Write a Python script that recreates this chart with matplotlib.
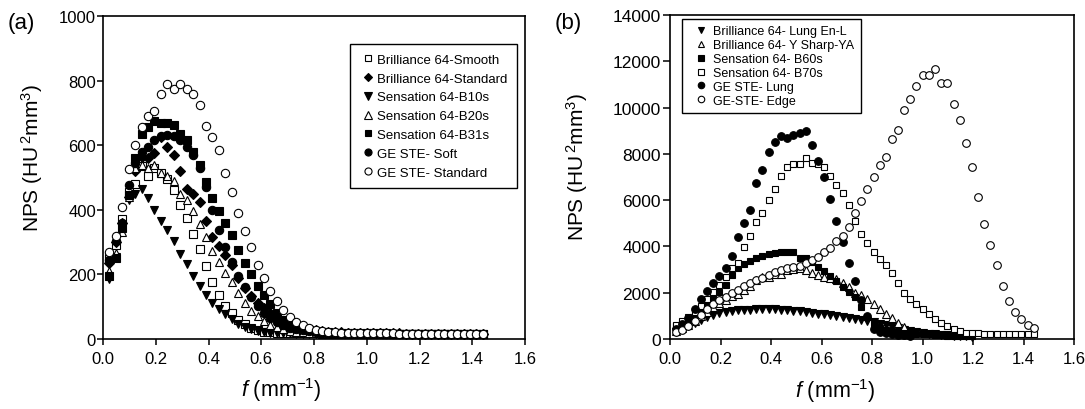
import matplotlib
matplotlib.use('Agg')
import matplotlib.pyplot as plt
from matplotlib.ticker import MultipleLocator, FormatStrFormatter

plt.rcParams['font.family'] = 'Liberation Sans'
plt.rcParams['mathtext.fontset'] = 'custom'
plt.rcParams['mathtext.rm'] = 'Liberation Sans'
plt.rcParams['mathtext.it'] = 'Liberation Sans:italic'

# spatial frequency samples (mm^-1), shared by both panels
FREQ = [0.024, 0.049, 0.073, 0.098, 0.122, 0.146, 0.171, 0.195, 0.220, 0.244,
        0.268, 0.293, 0.317, 0.342, 0.366, 0.391, 0.415, 0.439, 0.464, 0.488,
        0.513, 0.537, 0.562, 0.586, 0.610, 0.635, 0.659, 0.684, 0.708, 0.732,
        0.757, 0.781, 0.806, 0.830, 0.854, 0.879, 0.903, 0.928, 0.952, 0.976,
        1.001, 1.025, 1.050, 1.074, 1.098, 1.123, 1.147, 1.172, 1.196, 1.220,
        1.245, 1.269, 1.294, 1.318, 1.342, 1.367, 1.391, 1.416, 1.440]

# (a) soft / standard kernels
b64_smooth = [250, 290, 370, 455, 480, 535, 505, 530, 515, 495,
              460, 415, 375, 325, 278, 225, 175, 135, 103, 80,
              60, 45, 34, 27, 23, 21, 20, 19, 19, 18,
              18, 18, 18, 17, 17, 17, 17, 17, 17, 16,
              16, 16, 16, 16, 16, 16, 15, 15, 15, 15,
              15, 15, 15, 15, 14, 14, 14, 14, 14]
b64_standard = [235, 300, 360, 440, 520, 565, 560, 575, 625, 595,
                570, 520, 465, 448, 425, 365, 315, 288, 260, 228,
                190, 157, 132, 110, 95, 80, 66, 55, 46, 39,
                34, 30, 27, 25, 23, 22, 21, 20, 20, 19,
                19, 19, 18, 18, 18, 18, 17, 17, 17, 17,
                17, 16, 16, 16, 16, 16, 15, 15, 15]
s64_b10s = [185, 255, 335, 430, 450, 465, 435, 398, 366, 337,
            302, 262, 233, 195, 165, 135, 110, 92, 76, 61,
            47, 37, 30, 25, 22, 20, 19, 18, 18, 17,
            17, 17, 17, 16, 16, 16, 16, 16, 16, 15,
            15, 15, 15, 15, 15, 15, 15, 14, 14, 14,
            14, 14, 14, 14, 14, 13, 13, 13, 13]
s64_b20s = [210, 265, 330, 440, 530, 540, 530, 540, 515, 505,
            488, 450, 430, 395, 355, 315, 272, 238, 205, 176,
            142, 112, 88, 70, 55, 44, 36, 30, 26, 23,
            21, 20, 19, 19, 18, 18, 18, 17, 17, 17,
            17, 17, 16, 16, 16, 16, 16, 16, 15, 15,
            15, 15, 15, 15, 15, 14, 14, 14, 14]
s64_b31s = [195, 250, 345, 445, 560, 635, 655, 675, 670, 668,
            662, 635, 615, 580, 540, 485, 435, 395, 358, 322,
            275, 235, 200, 165, 135, 108, 82, 60, 46, 37,
            31, 27, 24, 22, 21, 20, 20, 19, 19, 19,
            18, 18, 18, 18, 17, 17, 17, 17, 17, 16,
            16, 16, 16, 16, 16, 15, 15, 15, 15]
ge_soft = [245, 303, 360, 478, 545, 580, 595, 615, 630, 632,
           628, 615, 595, 570, 530, 470, 400, 338, 285, 238,
           195, 160, 130, 103, 82, 65, 52, 42, 35, 30,
           27, 24, 22, 21, 20, 20, 19, 19, 19, 18,
           18, 18, 18, 17, 17, 17, 17, 17, 16, 16,
           16, 16, 16, 16, 15, 15, 15, 15, 15]
ge_standard = [270, 320, 410, 525, 600, 655, 690, 705, 760, 790,
               775, 790, 775, 760, 725, 660, 625, 585, 515, 455,
               390, 335, 285, 228, 188, 150, 118, 90, 68, 53,
               42, 34, 28, 25, 23, 21, 20, 20, 19, 19,
               19, 18, 18, 18, 18, 17, 17, 17, 17, 17,
               16, 16, 16, 16, 16, 16, 15, 15, 15]

# (b) sharp / lung kernels
b64_lung_en_l = [300, 420, 560, 700, 830, 950, 1040, 1110, 1170, 1210,
                 1240, 1260, 1270, 1280, 1290, 1300, 1310, 1270, 1240, 1210,
                 1190, 1160, 1130, 1100, 1070, 1040, 1000, 960, 920, 880,
                 830, 780, 720, 660, 600, 530, 460, 400, 350, 300,
                 260, 230, 200, 175, 155, 140, 125, 110, 100]
b64_y_sharp = [360, 460, 600, 780, 980, 1180, 1370, 1540, 1700, 1850,
               1950, 2120, 2280, 2560, 2660, 2700, 2800, 2820, 2980, 3020,
               3060, 3000, 2850, 2780, 2700, 2640, 2580, 2420, 2250, 2000,
               1900, 1720, 1500, 1300, 1100, 900, 680, 520]
s64_b60s = [560, 700, 860, 1050, 1280, 1550, 1820, 2050, 2350, 2750,
            3050, 3250, 3370, 3490, 3570, 3670, 3720, 3770, 3780, 3760,
            3520, 3500, 3330, 3120, 2940, 2720, 2500, 2260, 2020, 1830,
            1380, 970, 650, 480, 400, 350, 310, 280, 250, 230,
            210, 195, 180, 165, 150, 140, 130, 120, 110]
s64_b70s = [620, 790, 960, 1180, 1420, 1750, 2050, 2350, 2690, 3050,
            3300, 3980, 4450, 5050, 5450, 6000, 6480, 7050, 7450, 7550,
            7550, 7800, 7620, 7570, 7450, 7050, 6650, 6300, 5800, 5100,
            4550, 4150, 3750, 3450, 3200, 2850, 2420, 2000, 1720, 1500,
            1300, 1090, 860, 700, 570, 450, 340, 270, 248, 240,
            235, 230, 225, 222, 220, 218, 216, 215, 214]
ge_lung = [420, 630, 920, 1280, 1720, 2060, 2420, 2720, 3050, 3600,
           4420, 5030, 5580, 6750, 7300, 8100, 8500, 8780, 8680, 8820,
           8890, 8980, 8400, 7700, 7000, 6050, 5080, 4200, 3300, 2500,
           1700, 1000, 450, 300, 250, 220, 190, 170, 150]
ge_edge = [300, 400, 560, 770, 1020, 1280, 1500, 1690, 1830, 1990,
           2120, 2270, 2400, 2530, 2650, 2780, 2880, 2980, 3080, 3120,
           3170, 3270, 3420, 3540, 3780, 3930, 4250, 4460, 4820, 5450,
           5950, 6500, 7000, 7500, 7850, 8650, 9050, 9900, 10350, 10950,
           11400, 11400, 11650, 11050, 11050, 10150, 9450, 8480, 7420, 6150,
           4980, 4060, 3180, 2300, 1650, 1170, 870, 610, 480]


def plot_series(ax, y, marker, filled, ms, label):
    x = FREQ[:len(y)]
    ax.plot(x, y, linestyle='none', marker=marker, markersize=ms,
            markerfacecolor='black' if filled else 'white',
            markeredgecolor='black', markeredgewidth=0.8, label=label,
            clip_on=False)


def style_axes(ax, ymax, ystep, ysize, ypad, ylen):
    ax.set_xlim(0, 1.6)
    ax.set_ylim(0, ymax)
    ax.xaxis.set_major_locator(MultipleLocator(0.2))
    ax.xaxis.set_major_formatter(FormatStrFormatter('%.1f'))
    ax.yaxis.set_major_locator(MultipleLocator(ystep))
    ax.tick_params(axis='x', direction='out', length=4, width=1.1,
                   labelsize=12, pad=5)
    ax.tick_params(axis='y', direction='out', length=ylen, width=1.1,
                   labelsize=ysize, pad=ypad)
    for s in ax.spines.values():
        s.set_linewidth(1.2)
    ax.set_xlabel(r'$\it{f}$ (mm$^{-1}$)', fontsize=15.5)
    ax.set_ylabel(r'NPS (HU$^{\,2}$mm$^{3}$)', fontsize=15)


fig = plt.figure(figsize=(10.85, 4.10), dpi=100)
ax_a = fig.add_axes([103 / 1085, 70 / 410, 422 / 1085, 323 / 410])
ax_b = fig.add_axes([670 / 1085, 70 / 410, 404 / 1085, 324 / 410])

plot_series(ax_a, b64_smooth, 's', False, 5.5, 'Brilliance 64-Smooth')
plot_series(ax_a, b64_standard, 'D', True, 5.0, 'Brilliance 64-Standard')
plot_series(ax_a, s64_b10s, 'v', True, 6.0, 'Sensation 64-B10s')
plot_series(ax_a, s64_b20s, '^', False, 6.0, 'Sensation 64-B20s')
plot_series(ax_a, s64_b31s, 's', True, 5.5, 'Sensation 64-B31s')
plot_series(ax_a, ge_soft, 'o', True, 6.0, 'GE STE- Soft')
plot_series(ax_a, ge_standard, 'o', False, 6.0, 'GE STE- Standard')

plot_series(ax_b, b64_lung_en_l, 'v', True, 5.5, 'Brilliance 64- Lung En-L')
plot_series(ax_b, b64_y_sharp, '^', False, 5.5, 'Brilliance 64- Y Sharp-YA')
plot_series(ax_b, s64_b60s, 's', True, 4.8, 'Sensation 64- B60s')
plot_series(ax_b, s64_b70s, 's', False, 4.8, 'Sensation 64- B70s')
plot_series(ax_b, ge_lung, 'o', True, 5.5, 'GE STE- Lung')
plot_series(ax_b, ge_edge, 'o', False, 5.5, 'GE-STE- Edge')

style_axes(ax_a, 1000, 200, 12, 1, 4)
style_axes(ax_b, 14000, 2000, 12.5, 1.5, 5)

ax_a.xaxis.set_label_coords(0.422, -0.112)
ax_b.xaxis.set_label_coords(0.408, -0.115)
ax_a.yaxis.set_label_coords(-0.137, 0.563)
ax_b.yaxis.set_label_coords(-0.198, 0.534)

leg_a = ax_a.legend(loc='upper left', bbox_to_anchor=(350 / 1085, 1 - 45 / 410),
                    bbox_transform=fig.transFigure, fontsize=9.5,
                    fancybox=False, edgecolor='black', framealpha=1,
                    borderpad=0.72, handlelength=1.29, handletextpad=0.05,
                    labelspacing=0.5, borderaxespad=0, markerscale=0.85)
leg_a.get_frame().set_linewidth(1.0)

leg_b = ax_b.legend(loc='upper left', bbox_to_anchor=(682 / 1085, 1 - 20 / 410),
                    bbox_transform=fig.transFigure, fontsize=9,
                    fancybox=False, edgecolor='black', framealpha=1,
                    borderpad=0.5, handlelength=2.0, handletextpad=0.0,
                    labelspacing=0.15, borderaxespad=0, markerscale=0.85)
leg_b.get_frame().set_linewidth(1.0)

fig.text(8 / 1085, 1 - 23 / 410, '(a)', fontsize=16, va='center', ha='left')
fig.text(555 / 1085, 1 - 23 / 410, '(b)', fontsize=16, va='center', ha='left')

fig.savefig('out.png', dpi=100)
